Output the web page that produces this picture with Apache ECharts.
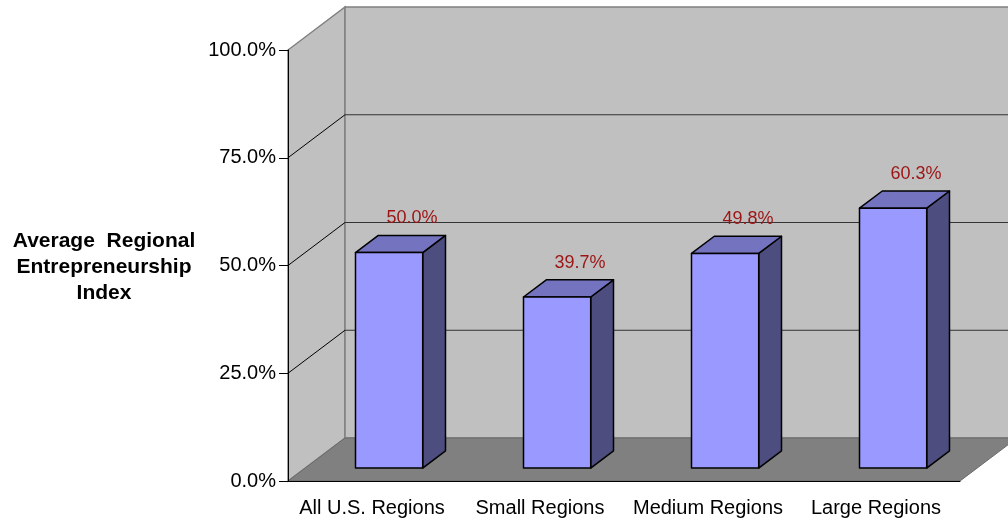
<!DOCTYPE html>
<html>
<head>
<meta charset="utf-8">
<script src="https://cdn.jsdelivr.net/npm/echarts@6/dist/echarts.min.js"></script>
<style>
  html, body { margin: 0; padding: 0; background: #fff; }
  #chart { width: 1008px; height: 521px; }
</style>
</head>
<body>
<div id="chart"></div>
<script>
const categories = ['All U.S. Regions', 'Small Regions', 'Medium Regions', 'Large Regions'];
const values = [0.500, 0.397, 0.498, 0.603];
const yTicks = [0, 0.25, 0.5, 0.75, 1];

// depth of the 3d box in pixels
const DX = 57;
const DY = 43;

const chart = echarts.init(document.getElementById('chart'));

function renderWalls(params, api) {
  const band = api.size([1, 0])[0];
  const x0 = api.coord([0, 0])[0] - band / 2;
  const x1 = api.coord([categories.length - 1, 0])[0] + band / 2;
  const yb = api.coord([0, 0])[1];
  const yt = api.coord([0, 1])[1];
  const children = [];
  // left wall
  children.push({
    type: 'polygon',
    shape: { points: [[x0, yb], [x0, yt], [x0 + DX, yt - DY], [x0 + DX, yb - DY]] },
    style: { fill: '#c0c0c0', stroke: '#808080', lineWidth: 1.5 }
  });
  // back wall
  children.push({
    type: 'polygon',
    shape: { points: [[x0 + DX, yt - DY], [x1 + DX, yt - DY], [x1 + DX, yb - DY], [x0 + DX, yb - DY]] },
    style: { fill: '#c0c0c0', stroke: '#808080', lineWidth: 1.5 }
  });
  // floor
  children.push({
    type: 'polygon',
    shape: { points: [[x0, yb], [x1, yb], [x1 + DX, yb - DY], [x0 + DX, yb - DY]] },
    style: { fill: '#808080', stroke: '#6a6a6a', lineWidth: 1 }
  });
  yTicks.forEach(function (t) {
    if (t === 0 || t === 1) return;
    const y = api.coord([0, t])[1];
    children.push({
      type: 'line',
      shape: { x1: x0, y1: y, x2: x0 + DX, y2: y - DY },
      style: { stroke: '#000', lineWidth: 1 }
    });
    children.push({
      type: 'line',
      shape: { x1: x0 + DX, y1: y - DY, x2: x1 + DX, y2: y - DY },
      style: { stroke: '#333', lineWidth: 1 }
    });
  });
  return { type: 'group', children: children };
}

function renderBar(params, api) {
  const idx = api.value(0);
  const val = api.value(1);
  const band = api.size([1, 0])[0];
  const top = api.coord([idx, val]);
  const base = api.coord([idx, 0]);
  const w = band * 0.4;
  const fx = 0.3 * DX, fy = 0.3 * DY;
  const dx = 0.4 * DX, dy = 0.4 * DY;
  const l = top[0] - w / 2 + fx;
  const r = l + w;
  const t = top[1] - fy;
  const b = base[1] - fy;
  const edge = { stroke: '#000', lineWidth: 1.5, lineJoin: 'round' };
  return {
    type: 'group',
    children: [
      {
        type: 'polygon',
        shape: { points: [[r, b], [r + dx, b - dy], [r + dx, t - dy], [r, t]] },
        style: Object.assign({ fill: '#4d4d7f' }, edge)
      },
      {
        type: 'polygon',
        shape: { points: [[l, t], [l + dx, t - dy], [r + dx, t - dy], [r, t]] },
        style: Object.assign({ fill: '#7373bf' }, edge)
      },
      {
        type: 'rect',
        shape: { x: l, y: t, width: w, height: b - t },
        style: Object.assign({ fill: '#9999ff' }, edge)
      },
      {
        type: 'text',
        x: (l + r) / 2 + dx,
        y: t - dy - 17,
        style: {
          text: (val * 100).toFixed(1) + '%',
          fill: '#9c1414',
          font: '18px "Liberation Sans", Arial, sans-serif',
          align: 'center',
          verticalAlign: 'middle'
        }
      }
    ]
  };
}

const option = {
  animation: false,
  grid: { left: 288, right: 48, top: 50, bottom: 40 },
  xAxis: {
    type: 'category',
    data: categories,
    axisLine: { lineStyle: { color: '#000', width: 1 } },
    axisTick: { length: 9, lineStyle: { color: '#000' } },
    axisLabel: {
      interval: 0,
      margin: 17,
      color: '#000',
      fontSize: 20,
      fontFamily: 'Liberation Sans, Arial, sans-serif'
    },
    splitLine: { show: false }
  },
  yAxis: {
    type: 'value',
    min: 0,
    max: 1,
    interval: 0.25,
    axisLine: { show: true, lineStyle: { color: '#000', width: 1 } },
    axisTick: { show: true, length: 9, lineStyle: { color: '#000' } },
    axisLabel: {
      margin: 12,
      color: '#000',
      fontSize: 20,
      fontFamily: 'Liberation Sans, Arial, sans-serif',
      formatter: function (v) { return (v * 100).toFixed(1) + '%'; }
    },
    splitLine: { show: false }
  },
  graphic: [{
    type: 'text',
    x: 104,
    y: 228,
    style: {
      text: 'Average  Regional\nEntrepreneurship\nIndex',
      align: 'center',
      verticalAlign: 'top',
      lineHeight: 26,
      fill: '#000',
      font: 'bold 21px "Liberation Sans", Arial, sans-serif'
    }
  }],
  series: [
    {
      type: 'custom',
      z: -1,
      silent: true,
      renderItem: renderWalls,
      data: [[0, 0]]
    },
    {
      type: 'custom',
      z: 3,
      renderItem: renderBar,
      data: values.map(function (v, i) { return [i, v]; })
    }
  ]
};

chart.setOption(option);
</script>
</body>
</html>
